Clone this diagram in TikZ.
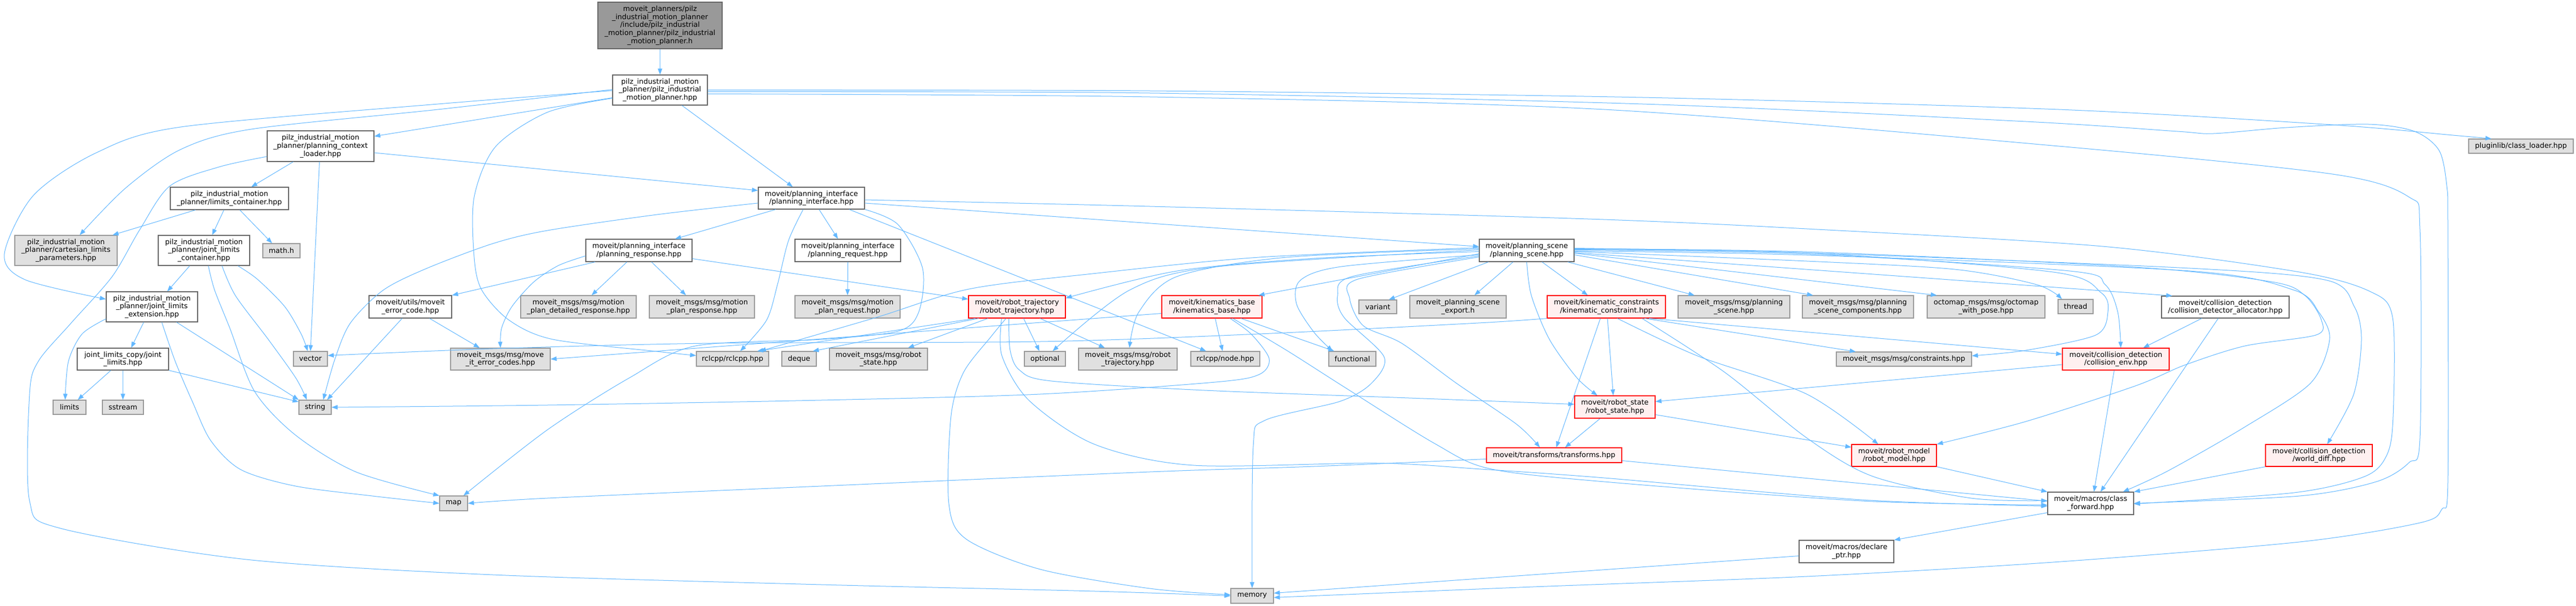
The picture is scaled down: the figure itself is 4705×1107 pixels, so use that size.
\documentclass[tikz,border=0pt]{standalone}
\usepackage{fontspec}
\usetikzlibrary{arrows.meta}
\newfontfamily\dvs{DejaVu Sans}
\definecolor{edgeblue}{HTML}{63B8FF}
\definecolor{extfill}{HTML}{E0E0E0}
\definecolor{extline}{HTML}{999999}
\definecolor{rootfill}{HTML}{999999}
\definecolor{darkline}{HTML}{666666}
\definecolor{redfill}{HTML}{FFF0F0}

\begin{document}
\begin{tikzpicture}[x=1pt, y=-1pt,
    incl/.style={draw=edgeblue, line width=1pt, -{Triangle[length=11pt, width=8pt]}},
    filebox/.style={draw=darkline, fill=white, line width=1.2pt, inner sep=0pt, align=center,
      font={\dvs\fontsize{13}{14.6}\selectfont}},
    extbox/.style={filebox, draw=extline, fill=extfill},
    redbox/.style={filebox, draw=red, fill=redfill},
    rootbox/.style={filebox, draw=darkline, fill=rootfill}]

  % Page
  \fill[white] (0,0) rectangle (4705,1107);
  \useasboundingbox (0,0) rectangle (4705,1107);

  % Add files
  \node[rootbox, minimum width=227pt, minimum height=85pt] (root) at (1205.5,46.5)
    {moveit\_planners/pilz\\\_industrial\_motion\_planner\\/include/pilz\_industrial\\\_motion\_planner/pilz\_industrial\\\_motion\_planner.h};
  \node[filebox, minimum width=173pt, minimum height=55pt] (pimp) at (1205.5,164.5)
    {pilz\_industrial\_motion\\\_planner/pilz\_industrial\\\_motion\_planner.hpp};
  \node[extbox, minimum width=191pt, minimum height=26pt] (pluginlib) at (4604.5,267) {pluginlib/class\_loader.hpp};
  \node[filebox, minimum width=195pt, minimum height=56pt] (loader) at (585.5,267)
    {pilz\_industrial\_motion\\\_planner/planning\_context\\\_loader.hpp};
  \node[filebox, minimum width=216pt, minimum height=41pt] (limcont) at (419,362.5)
    {pilz\_industrial\_motion\\\_planner/limits\_container.hpp};
  \node[filebox, minimum width=194pt, minimum height=40pt] (pi) at (1482,362)
    {moveit/planning\_interface\\/planning\_interface.hpp};
  \node[extbox, minimum width=187pt, minimum height=55pt] (cartlim) at (120.5,457.5)
    {pilz\_industrial\_motion\\\_planner/cartesian\_limits\\\_parameters.hpp};
  \node[filebox, minimum width=167pt, minimum height=55pt] (jlcont) at (372.5,457.5)
    {pilz\_industrial\_motion\\\_planner/joint\_limits\\\_container.hpp};
  \node[extbox, minimum width=68pt, minimum height=26pt] (mathh) at (514,458) {math.h};
  \node[filebox, minimum width=194pt, minimum height=41pt] (presp) at (1167,457.5)
    {moveit/planning\_interface\\/planning\_response.hpp};
  \node[filebox, minimum width=193pt, minimum height=41pt] (preq) at (1548.5,457.5)
    {moveit/planning\_interface\\/planning\_request.hpp};
  \node[filebox, minimum width=173pt, minimum height=41pt] (ps) at (2788.5,457.5)
    {moveit/planning\_scene\\/planning\_scene.hpp};

  \node[filebox, minimum width=167pt, minimum height=55pt] (jlext) at (277.5,560.5)
    {pilz\_industrial\_motion\\\_planner/joint\_limits\\\_extension.hpp};
  \node[filebox, minimum width=151pt, minimum height=41pt] (errcode) at (749.5,560.5)
    {moveit/utils/moveit\\\_error\_code.hpp};
  \node[extbox, minimum width=211pt, minimum height=41pt] (mpdet) at (1056.5,560.5)
    {moveit\_msgs/msg/motion\\\_plan\_detailed\_response.hpp};
  \node[extbox, minimum width=192pt, minimum height=41pt] (mpresp) at (1282,560.5)
    {moveit\_msgs/msg/motion\\\_plan\_response.hpp};
  \node[extbox, minimum width=192pt, minimum height=41pt] (mpreq) at (1548,560.5)
    {moveit\_msgs/msg/motion\\\_plan\_request.hpp};
  \node[redbox, minimum width=177pt, minimum height=41pt] (rtraj) at (1857.5,560.5)
    {moveit/robot\_trajectory\\/robot\_trajectory.hpp};
  \node[redbox, minimum width=183pt, minimum height=41pt] (kinbase) at (2213.5,560.5)
    {moveit/kinematics\_base\\/kinematics\_base.hpp};
  \node[extbox, minimum width=69pt, minimum height=25pt] (variant) at (2516.5,560.5) {variant};
  \node[extbox, minimum width=176pt, minimum height=41pt] (psexp) at (2663,560.5)
    {moveit\_planning\_scene\\\_export.h};
  \node[redbox, minimum width=216pt, minimum height=41pt] (kincon) at (2934,560.5)
    {moveit/kinematic\_constraints\\/kinematic\_constraint.hpp};
  \node[extbox, minimum width=204pt, minimum height=41pt] (msgps) at (3167,560.5)
    {moveit\_msgs/msg/planning\\\_scene.hpp};
  \node[extbox, minimum width=203pt, minimum height=41pt] (pscomp) at (3393.5,560.5)
    {moveit\_msgs/msg/planning\\\_scene\_components.hpp};
  \node[extbox, minimum width=215pt, minimum height=41pt] (octo) at (3627.5,560.5)
    {octomap\_msgs/msg/octomap\\\_with\_pose.hpp};
  \node[extbox, minimum width=64pt, minimum height=26pt] (thread) at (3791,560) {thread};
  \node[filebox, minimum width=233pt, minimum height=40pt] (cdalloc) at (4064.5,561)
    {moveit/collision\_detection\\/collision\_detector\_allocator.hpp};

  \node[filebox, minimum width=167pt, minimum height=40pt] (jlcopy) at (224.5,656)
    {joint\_limits\_copy/joint\\\_limits.hpp};
  \node[extbox, minimum width=62pt, minimum height=27pt] (vector) at (567,655.5) {vector};
  \node[extbox, minimum width=182pt, minimum height=40pt] (errcodes) at (914,656)
    {moveit\_msgs/msg/move\\\_it\_error\_codes.hpp};
  \node[extbox, minimum width=132pt, minimum height=27pt] (rclcpp) at (1338,655.5) {rclcpp/rclcpp.hpp};
  \node[extbox, minimum width=63pt, minimum height=27pt] (deque) at (1459.5,655.5) {deque};
  \node[extbox, minimum width=179pt, minimum height=40pt] (msgrs) at (1604.5,656)
    {moveit\_msgs/msg/robot\\\_state.hpp};
  \node[extbox, minimum width=75pt, minimum height=27pt] (optional) at (1908.5,655.5) {optional};
  \node[extbox, minimum width=180pt, minimum height=40pt] (msgrt) at (2060,656)
    {moveit\_msgs/msg/robot\\\_trajectory.hpp};
  \node[extbox, minimum width=126pt, minimum height=27pt] (node) at (2238,655.5) {rclcpp/node.hpp};
  \node[extbox, minimum width=86pt, minimum height=27pt] (functional) at (2470,655.5) {functional};
  \node[extbox, minimum width=247pt, minimum height=26pt] (constraints) at (3477.5,656) {moveit\_msgs/msg/constraints.hpp};
  \node[redbox, minimum width=195pt, minimum height=40pt] (cenv) at (3864.5,656)
    {moveit/collision\_detection\\/collision\_env.hpp};

  \node[extbox, minimum width=60pt, minimum height=26pt] (limits) at (127,744) {limits};
  \node[extbox, minimum width=75pt, minimum height=26pt] (sstream) at (224.5,744) {sstream};
  \node[extbox, minimum width=59pt, minimum height=26pt] (string) at (575.5,744) {string};
  \node[redbox, minimum width=147pt, minimum height=41pt] (rstate) at (2949.5,743.5)
    {moveit/robot\_state\\/robot\_state.hpp};
  \node[redbox, minimum width=247pt, minimum height=27pt] (transforms) at (2838.5,831.5) {moveit/transforms/transforms.hpp};
  \node[redbox, minimum width=155pt, minimum height=40pt] (rmodel) at (3459.5,832)
    {moveit/robot\_model\\/robot\_model.hpp};
  \node[redbox, minimum width=195pt, minimum height=40pt] (wdiff) at (4235.5,832)
    {moveit/collision\_detection\\/world\_diff.hpp};
  \node[extbox, minimum width=51pt, minimum height=27pt] (map) at (828.5,919.5) {map};
  \node[filebox, minimum width=157pt, minimum height=41pt] (cfwd) at (3818.5,919.5)
    {moveit/macros/class\\\_forward.hpp};
  \node[filebox, minimum width=173pt, minimum height=41pt] (dptr) at (3372.5,1007.5)
    {moveit/macros/declare\\\_ptr.hpp};
  \node[extbox, minimum width=78pt, minimum height=27pt] (memory) at (2287,1088.5) {memory};

  % Add includes of the root
  \draw[incl] (root) -- (pimp);

  % pilz_industrial_motion_planner.hpp
  \draw[incl] plot[smooth] coordinates {([yshift=1pt]pimp.west) (800,200) (459,236) (330,273) (230,343) ([xshift=25pt]cartlim.north)};
  \draw[incl] plot[smooth] coordinates {([yshift=-1pt]pimp.west) (800,190) (330,232) (176,279) (61,357) (8,464) (46,511) ([yshift=14pt]jlext.west)};
  \draw[incl] ([yshift=-14pt]pimp.west) -- ([yshift=18pt]loader.east);
  \draw[incl] plot[smooth] coordinates {([yshift=-15pt]pimp.west) (1000,205) (905,268) (866,360) (866,470) (880,530) (930,585) (1010,620) (1200,642) ([yshift=6pt]rclcpp.west)};
  \draw[incl] ([xshift=40pt]pimp.south) -- ([xshift=-34pt]pi.north);
  \draw[incl] plot[smooth] coordinates {(pimp.east) (2100,166) (3000,178) (3760,200) (4260,228) (4480,247) ([xshift=-54pt]pluginlib.north)};
  \draw[incl] plot[smooth] coordinates {([yshift=-3pt]pimp.east) (2100,170) (3000,190) (3700,222) (3977,240) (4043,244) (4176,233) (4326,227) (4410,240) (4455,275) (4469,340) (4471,420) (4471,880) (4460,930) (4420,955) (4200,990) (3750,1027) (3300,1053) (2800,1072) ([yshift=-3pt]memory.east)};
  \draw[incl] plot[smooth] coordinates {([yshift=-7pt]pimp.east) (2100,177) (2930,200) (3760,267) (4260,318) (4400,360) (4420,420) (4420,800) (4400,845) (4340,880) (4200,906) (cfwd.east)};

  % planning_context_loader.hpp
  \draw[incl] ([xshift=-50pt]loader.south) -- ([xshift=40pt]limcont.north);
  \draw[incl] ([xshift=-2pt]loader.south) -- (vector.north);
  \draw[incl] ([yshift=-12pt]loader.east) -- ([yshift=14pt]pi.west);
  \draw[incl] plot[smooth] coordinates {([yshift=-19pt]loader.west) (400,305) (310,340) (255,420) (205,505) (130,590) (70,660) (54,720) (54,915) (110,965) (450,1022) (900,1050) (1500,1068) (2000,1080) (memory.west)};

  % limits_container.hpp
  \draw[incl] ([xshift=-62pt]limcont.south) -- ([xshift=85pt]cartlim.north);
  \draw[incl] ([xshift=-10pt]limcont.south) -- ([xshift=15pt]jlcont.north);
  \draw[incl] ([xshift=19pt]limcont.south) -- ([xshift=-17pt]mathh.north);

  % joint_limits_container.hpp
  \draw[incl] ([xshift=-26pt]jlcont.south) -- ([xshift=28pt]jlext.north);
  \draw[incl] plot[smooth] coordinates {([xshift=8pt]jlcont.south) (392,530) (420,600) (465,715) (540,795) (650,862) (map.north west)};
  \draw[incl] plot[smooth] coordinates {([xshift=33pt]jlcont.south) (430,540) (490,620) (540,690) ([xshift=-15pt]string.north)};
  \draw[incl] plot[smooth] coordinates {([xshift=62pt]jlcont.south) (470,510) (520,560) (550,610) ([xshift=-5pt]vector.north)};

  % joint_limits_extension.hpp
  \draw[incl] plot[smooth] coordinates {([yshift=-22pt]jlext.west) (150,610) (125,660) ([xshift=-8pt]limits.north)};
  \draw[incl] ([xshift=-15pt]jlext.south) -- ([xshift=15pt]jlcopy.north);
  \draw[incl] plot[smooth] coordinates {([xshift=18pt]jlext.south) (320,660) (352,735) (385,805) (440,858) (540,888) (680,906) (map.west)};
  \draw[incl] ([xshift=45pt]jlext.south) -- (string.north west);

  % joint_limits.hpp
  \draw[incl] ([xshift=-22pt]jlcopy.south) -- ([xshift=15pt]limits.north);
  \draw[incl] (jlcopy.south) -- (sstream.north);
  \draw[incl] (jlcopy.south east) -- ([yshift=10pt]string.west);

  % moveit_error_code.hpp
  \draw[incl] ([xshift=-15pt]errcode.south) -- ([xshift=22pt]string.north);
  \draw[incl] ([xshift=35pt]errcode.south) -- ([xshift=-38pt]errcodes.north);

  % planning_interface.hpp
  \draw[incl] ([xshift=-65pt]pi.south) -- ([xshift=66pt]presp.north);
  \draw[incl] ([xshift=14pt]pi.south) -- ([xshift=-18pt]preq.north);
  \draw[incl] plot[smooth] coordinates {([xshift=-15pt]pi.south) (1440,440) (1420,520) (1400,585) ([xshift=14pt]rclcpp.north)};
  \draw[incl] plot[smooth] coordinates {([yshift=-9pt]pi.west) (1200,392) (1000,421) (900,445) (780,490) (700,530) (640,590) (612,655) ([xshift=15pt]string.north)};
  \draw[incl] plot[smooth] coordinates {(pi.south east) (1640,410) (1685,490) (1678,570) (1640,605) (1500,620) (1270,632) (1150,690) (1000,785) ([xshift=18pt]map.north)};
  \draw[incl] ([xshift=69pt]pi.south) -- ([xshift=-35pt]node.north);
  \draw[incl] ([yshift=-9pt]pi.east) -- ([yshift=7pt]ps.west);
  \draw[incl] plot[smooth] coordinates {([yshift=-3pt]pi.east) (2100,377) (2900,400) (3300,418) (3840,450) (4200,497) (4330,533) (4370,580) (4371,760) (4360,830) (4320,870) (4190,900) ([yshift=-1pt]cfwd.east)};

  % planning_response.hpp and planning_request.hpp
  \draw[incl] ([xshift=-80pt]presp.south) -- (errcode.north east);
  \draw[incl] plot[smooth] coordinates {([yshift=-10pt]presp.west) (1020,485) (975,515) (935,560) (916,600) (errcodes.north)};
  \draw[incl] ([xshift=-22pt]presp.south) -- ([xshift=24pt]mpdet.north);
  \draw[incl] ([xshift=23pt]presp.south) -- ([xshift=-29pt]mpresp.north);
  \draw[incl] ([yshift=-15pt]presp.east) -- ([yshift=14pt]rtraj.west);
  \draw[incl] (preq.south) -- (mpreq.north);

  % robot_trajectory.hpp
  \draw[incl] ([xshift=-76pt]rtraj.south) -- ([xshift=45pt]rclcpp.north);
  \draw[incl] ([xshift=-70pt]rtraj.south) -- ([xshift=25pt]deque.north);
  \draw[incl] ([xshift=-53pt]rtraj.south) -- ([xshift=54pt]msgrs.north);
  \draw[incl] ([xshift=12pt]rtraj.south) -- ([xshift=-10pt]optional.north);
  \draw[incl] ([xshift=42pt]rtraj.south) -- ([xshift=-42pt]msgrt.north);
  \draw[incl] plot[smooth] coordinates {([xshift=-15pt]rtraj.south) (1845,640) (1862,676) (1920,696) (2200,713) (2600,728) ([yshift=5pt]rstate.west)};
  \draw[incl] plot[smooth] coordinates {([xshift=-28pt]rtraj.south) (1830,650) (1880,732) (2000,812) (2180,850) (2515,846) (2705,857) (2930,873) (3400,913) ([yshift=-5pt]cfwd.west)};
  \draw[incl] plot[smooth] coordinates {([xshift=-20pt]rtraj.south) (1810,615) (1760,680) (1737,760) (1733,920) (1765,985) (1900,1040) (2100,1075) ([yshift=2pt]memory.west)};

  % kinematics_base.hpp
  \draw[incl] ([yshift=-12pt]kinbase.west) -- (errcodes.east);
  \draw[incl] ([xshift=6pt]kinbase.south) -- ([xshift=-5pt]node.north);
  \draw[incl] ([xshift=53pt]kinbase.south) -- ([xshift=-33pt]functional.north);
  \draw[incl] plot[smooth] coordinates {([xshift=33pt]kinbase.south) (2285,610) (2318,655) (2300,684) (2220,698) (1900,720) (1500,731) (1000,740) (string.east)};
  \draw[incl] plot[smooth] coordinates {([xshift=38pt]kinbase.south) (2350,640) (2460,710) (2620,810) (2720,856) (2930,880) (3400,915) ([yshift=-3pt]cfwd.west)};

  % planning_scene.hpp, to the left
  \draw[incl] ([yshift=-6pt]ps.west) -- ([xshift=85pt]kinbase.north);
  \draw[incl] plot[smooth] coordinates {([yshift=-2pt]ps.west) (2400,472) (2150,495) ([yshift=16pt]rtraj.east)};
  \draw[incl] plot[smooth] coordinates {([yshift=1pt]ps.west) (2225,487) (2063,530) ([xshift=14pt]optional.north)};
  \draw[incl] plot[smooth] coordinates {([yshift=3pt]ps.west) (2350,470) (2150,505) (2080,570) ([xshift=3pt]msgrt.north)};
  \draw[incl] plot[smooth] coordinates {([yshift=5pt]ps.west) (2300,470) (1995,500) (1770,528) (1600,580) ([xshift=50pt]rclcpp.north)};
  \draw[incl] plot[smooth] coordinates {([yshift=-8pt]ps.west) (2450,487) (2375,512) (2368,555) (2400,607) ([xshift=-36pt]functional.north)};
  \draw[incl] plot[smooth] coordinates {([yshift=-10pt]ps.west) (2470,505) (2443,540) (2455,580) (2528,652) (2505,700) (2448,733) (2310,768) (2289,815) (memory.north)};
  \draw[incl] plot[smooth] coordinates {([yshift=-12pt]ps.west) (2480,510) (2465,545) (2490,595) (2560,627) (2660,700) (2770,775) ([xshift=-26pt]transforms.north)};

  % planning_scene.hpp, below
  \draw[incl] ([xshift=-70pt]ps.south) -- ([xshift=20pt]variant.north);
  \draw[incl] ([xshift=-25pt]ps.south) -- ([xshift=30pt]psexp.north);
  \draw[incl] plot[smooth] coordinates {(ps.south) (2797,540) (2830,620) (2880,690) ([xshift=-32pt]rstate.north)};
  \draw[incl] ([xshift=28pt]ps.south) -- ([xshift=-34pt]kincon.north);
  \draw[incl] ([xshift=75pt]ps.south) -- ([xshift=-72pt]msgps.north);

  % planning_scene.hpp, to the right
  \draw[incl] ([yshift=-8pt]ps.east) -- ([xshift=-82pt]pscomp.north);
  \draw[incl] ([yshift=-5pt]ps.east) -- ([xshift=-90pt]octo.north);
  \draw[incl] plot[smooth] coordinates {([yshift=-2pt]ps.east) (3300,477) (3570,492) (3720,520) ([xshift=-25pt]thread.north)};
  \draw[incl] ([yshift=-4pt]ps.east) -- ([xshift=-97pt]cdalloc.north);
  \draw[incl] plot[smooth] coordinates {([yshift=2pt]ps.east) (3300,462) (3750,497) (3838,535) (3850,570) (3828,612) (3700,640) ([yshift=6pt]constraints.east)};
  \draw[incl] plot[smooth] coordinates {([yshift=1pt]ps.east) (3300,464) (3780,495) (3845,520) (3868,570) ([xshift=9pt]cenv.north)};
  \draw[incl] plot[smooth] coordinates {([yshift=3pt]ps.east) (3300,460) (3900,488) (4150,515) (4210,540) (4240,585) (4230,612) (4100,632) (3990,667) (3900,705) (3700,770) (rmodel.north east)};
  \draw[incl] plot[smooth] coordinates {([yshift=4pt]ps.east) (3300,462) (4000,490) (4250,512) (4300,560) (4313,620) (4299,720) ([xshift=15pt]wdiff.north)};
  \draw[incl] plot[smooth] coordinates {([yshift=-1pt]ps.east) (3300,466) (4000,495) (4190,530) (4235,570) (4255,620) (4220,700) (4100,780) (3960,860) ([xshift=59pt]cfwd.north)};

  % kinematic_constraint.hpp
  \draw[incl] plot[smooth] coordinates {(kincon.south west) (2700,590) (2300,610) (1900,624) (1300,627) (900,637) ([yshift=6pt]vector.east)};
  \draw[incl] ([xshift=-11pt]kincon.south) -- ([xshift=4pt]transforms.north);
  \draw[incl] ([xshift=2pt]kincon.south) -- ([xshift=-3pt]rstate.north);
  \draw[incl] plot[smooth] coordinates {([xshift=20pt]kincon.south) (3100,650) (3300,720) ([xshift=-29pt]rmodel.north)};
  \draw[incl] ([xshift=70pt]kincon.south) -- ([xshift=-88pt]constraints.north);
  \draw[incl] ([xshift=78pt]kincon.south) -- ([yshift=9pt]cenv.west);
  \draw[incl] plot[smooth] coordinates {([xshift=65pt]kincon.south) (3150,680) (3300,800) (3420,870) (3600,910) ([yshift=5pt]cfwd.west)};

  % robot_state.hpp, transforms.hpp, robot_model.hpp
  \draw[incl] ([xshift=-27pt]rstate.south) -- ([xshift=20pt]transforms.north);
  \draw[incl] ([yshift=-14pt]rstate.east) -- ([yshift=15pt]rmodel.west);
  \draw[incl] plot[smooth] coordinates {([yshift=-7pt]transforms.west) (2400,852) (2100,862) (1500,888) (1000,910) (map.east)};
  \draw[incl] ([yshift=-10pt]transforms.east) -- ([yshift=4pt]cfwd.west);
  \draw[incl] (rmodel.south east) -- (cfwd.north west);

  % collision detection
  \draw[incl] ([yshift=-10pt]cenv.west) -- ([yshift=10pt]rstate.east);
  \draw[incl] ([xshift=-3pt]cenv.south) -- ([xshift=6pt]cfwd.north);
  \draw[incl] ([xshift=-43pt]cdalloc.south) -- ([xshift=50pt]cenv.north);
  \draw[incl] ([xshift=-13pt]cdalloc.south) -- ([xshift=18pt]cfwd.north);
  \draw[incl] (wdiff.south west) -- (cfwd.north east);

  % macros
  \draw[incl] ([yshift=-17pt]cfwd.west) -- (dptr.north east);
  \draw[incl] ([yshift=-8pt]dptr.west) -- ([yshift=5pt]memory.east);

\end{tikzpicture}
\end{document}
